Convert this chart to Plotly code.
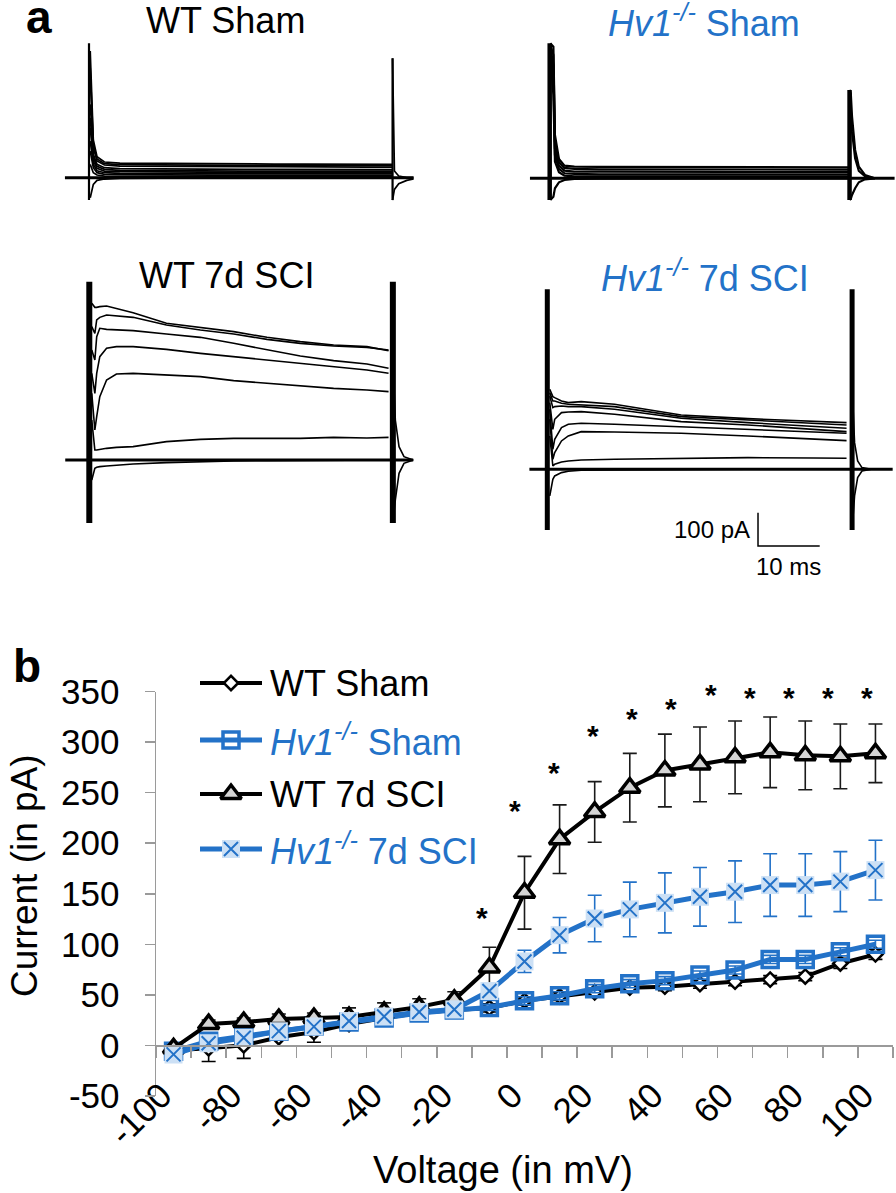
import plotly.graph_objects as go

W, H = 896, 1193
OFF = 0  # body margin removed via post_script below
BLUE = "#2372C8"
LIGHT = "#CCE0F5"
GRAY = "#9a9a9a"
FONT = "Liberation Sans, Arial, sans-serif"

# ------------------------------------------------------------------
# Panel b data (I-V curves)
# ------------------------------------------------------------------
voltage = list(range(-100, 101, 10))
wt_sham = [-5, -3, 0, 8, 13, 21, 27, 32, 35, 37, 44, 48.5, 52.5, 57, 58, 60.5, 63, 65, 68, 81, 90]
wt_sham_err = [4, 13, 13, 9, 10, 6, 5, 4, 4, 4, 4, 4, 4, 4, 4, 4, 4, 4, 4, 5, 5]
hv1_sham = [-6, 4, 9, 14, 19, 23, 27, 32, 35, 37.5, 44, 49, 56, 61, 64, 69.5, 74.5, 85, 85, 92.5, 100]
hv1_sham_err = [3, 3, 3, 3, 3, 3, 3, 3, 3, 3, 4, 4, 4, 4, 4, 4, 4, 4, 4, 4, 4]
wt_sci = [-3, 21, 23, 26, 27, 28, 33, 38, 45, 77, 151, 204, 231, 255, 272, 278, 285, 290, 287, 286, 289]
wt_sci_err = [3, 4, 4, 5, 5, 9, 9, 8, 8, 20, 36, 34, 30, 34, 36, 37, 36, 35, 34, 32, 29]
hv1_sci = [-9, 2, 7.5, 14, 18.5, 24, 28.5, 33, 35.5, 53.7, 83, 109, 125.5, 134.5, 141, 147, 152, 158.6, 158.6, 162, 173.4]
hv1_sci_err = [4, 4, 4, 4, 4, 4, 4, 4, 4, 6, 11, 17.5, 23, 27, 29.7, 29, 30.5, 31, 31, 29.7, 29.6]

x_label_vals = [-100, -80, -60, -40, -20, 0, 20, 40, 60, 80, 100]
x_label_text = ["-100", "-80", "-60", "-40", "-20", "0", "20", "40", "60", "80", "100"]
x_tick_bounds = [-105, -95, -85, -75, -65, -55, -45, -35, -25, -15, -5,
                 5, 15, 25, 35, 45, 55, 65, 75, 85, 95, 105]
y_tick_vals = [-50, 0, 50, 100, 150, 200, 250, 300, 350]
y_tick_text = ["-50", "0", "50", "100", "150", "200", "250", "300", "350"]

# significance asterisks (voltage position, current position)
sig_x = [-12.2, -2.7, 8.4, 19.6, 30.5, 41.7, 53.0, 64.2, 75.3, 86.6, 97.7]
sig_y = [128, 234.5, 272.4, 308.7, 325.8, 335, 348.9, 346.6, 346.6, 346.6, 346.6]

legend_names = ["WT Sham", "<i>Hv1<sup>-/-</sup></i> Sham", "WT 7d SCI", "<i>Hv1<sup>-/-</sup></i> 7d SCI"]

# ------------------------------------------------------------------
# Panel a data (current traces, time in ms, current in pA)
# ------------------------------------------------------------------
# WT Sham
wt_sham_t = [0.2, 0.7, 1.3, 2.5, 5, 10, 15, 20, 25, 30, 35, 40, 45, 49.2]
wt_sham_traces = [
    [380, 113, 63, 47, 44, 43, 43, 42, 42, 41, 41, 40, 40, 40],
    [330, 100, 56, 42, 39, 38, 38, 37, 37, 37, 36, 36, 36, 36],
    [300, 90, 50, 38, 35, 34, 34, 33, 33, 33, 32, 32, 32, 32],
    [220, 70, 40, 30, 27, 26, 26, 25, 25, 25, 25, 24, 24, 24],
    [180, 60, 34, 25, 22, 21, 21, 21, 20, 20, 20, 20, 20, 20],
    [150, 50, 28, 20, 18, 17, 17, 17, 16, 16, 16, 16, 16, 16],
    [110, 40, 21, 15, 13, 12, 12, 12, 12, 12, 12, 12, 12, 12],
    [80, 30, 15, 10, 9, 8, 8, 8, 8, 8, 8, 8, 8, 8],
    [40, 15, 8, 5, 4, 4, 4, 4, 4, 4, 4, 4, 4, 4],
    [-60, -20, -8, -4, -2, -1, 0, 0, 0, 0, 0, 0, 0, 0],
]
wt_sham_tail_t = [49.2, 49.5, 50.2, 51.5, 52.6]
wt_sham_tails = [[358, 20, 5, 0, 0], [-67, -35, -18, -8, -4]]
wt_sham_pulse = [0, 49.2]
wt_sham_on = [-67, 403]
wt_sham_off = [-67, 358]
wt_sham_base = [-3.9, 52.6]

# Hv1-/- Sham
hv1_sham_t = [0.1, 0.6, 0.85, 1.5, 2.4, 4, 8, 15, 22, 29, 36, 43, 48.6]
hv1_sham_traces = [
    [405, 395, 130, 58, 38, 35, 34, 34, 33, 33, 33, 33, 33],
    [400, 370, 110, 48, 31, 28, 27, 27, 27, 26, 26, 26, 26],
    [390, 340, 90, 38, 23, 20, 20, 19, 19, 19, 19, 19, 19],
    [380, 300, 70, 28, 15, 13, 12, 12, 12, 12, 12, 12, 12],
    [360, 250, 50, 18, 8, 6, 6, 6, 6, 6, 6, 6, 6],
    [-65, -55, -30, -12, -5, -2, -1, 0, 0, 0, 0, 0, 0],
]
hv1_sham_tail_t = [48.6, 48.8, 49.0, 49.5, 50.1, 51.1, 52.7]
hv1_sham_tails = [[265, 255, 185, 85, 35, 10, 0],
                  [230, 200, 140, 60, 22, 6, 0],
                  [-65, -62, -50, -30, -12, -3, 0]]
hv1_sham_pulse = [0, 48.6]
hv1_sham_on = [-65, 405]
hv1_sham_off = [-65, 265]
hv1_sham_base = [-3.2, 55.9]

# WT 7d SCI
wt_sci_t = [0.4, 0.9, 1.2, 1.7, 2.8, 4.4, 7.1, 12.5, 18, 23.4, 28.8, 34.2, 39.6, 45, 48.5]
wt_sci_traces = [
    [470, 458, 458, 460, 462, 455, 442, 410, 398, 385, 368, 355, 345, 340, 328],
    [400, 380, 420, 428, 435, 432, 428, 405, 390, 378, 362, 350, 342, 338, 330],
    [330, 300, 370, 395, 392, 390, 388, 378, 368, 350, 330, 312, 298, 288, 275],
    [260, 200, 260, 310, 335, 340, 340, 332, 320, 310, 300, 290, 280, 270, 260],
    [200, 90, 130, 190, 240, 258, 260, 255, 250, 238, 230, 222, 215, 210, 205],
    [120, 30, 30, 32, 35, 38, 40, 55, 62, 65, 65, 65, 68, 66, 68],
    [-60, -25, -22, -20, -18, -15, -12, -8, -5, -3, -2, -1, 0, 0, 0],
]
wt_sci_tail_t = [49.2, 49.6, 50.2, 51, 52.5]
wt_sci_tails = [[300, 120, 40, 10, 0], [-189, -120, -40, -10, 0]]
wt_sci_pulse = [0, 49.2]
wt_sci_on = [-189, 535]
wt_sci_off = [-189, 535]
wt_sci_base = [-3.9, 52.5]

# Hv1-/- 7d SCI
hv1_sci_t = [0.4, 0.9, 1.2, 2.3, 3.4, 5.5, 10.9, 21.7, 32.5, 43.2, 48.5]
hv1_sci_traces = [
    [240, 218, 215, 205, 200, 203, 195, 163, 152, 145, 140],
    [230, 205, 205, 198, 195, 193, 188, 158, 148, 138, 133],
    [220, 185, 188, 190, 188, 188, 180, 153, 140, 130, 123],
    [200, 120, 150, 170, 172, 173, 165, 143, 133, 120, 113],
    [180, 60, 90, 125, 135, 138, 135, 128, 120, 112, 108],
    [150, 30, 50, 85, 100, 113, 112, 108, 100, 92, 86],
    [100, 10, 15, 22, 25, 28, 30, 33, 35, 34, 33],
    [-80, -30, -20, -10, -6, -3, -2, 0, 0, 0, 0],
]
hv1_sci_tail_t = [49.4, 49.8, 50.3, 51, 52.5]
hv1_sci_tails = [[250, 80, 25, 5, 0], [-182, -80, -25, -5, 0]]
hv1_sci_pulse = [0, 49.4]
hv1_sci_on = [-182, 540]
hv1_sci_off = [-182, 540]
hv1_sci_base = [-2.9, 56.0]

# scale bar: 100 pA, 10 ms
scale_pa = 100
scale_ms = 10
scale_origin = [34.15, -230]

# ------------------------------------------------------------------
# Layout helpers (window pixel -> paper)
# ------------------------------------------------------------------
def fx(x):
    return (x - OFF) / W


def fy(y):
    return 1 - (y - OFF) / H


PX_PER_MS = 6.17
PX_PER_PA = 1 / 3.0
T_RANGE = [-5, 56]

fig = go.Figure()

panels = [
    dict(ax="", X0=89.0, Y0=177.7, yr=[-100, 430], t=wt_sham_t, traces=wt_sham_traces,
         tail_t=wt_sham_tail_t, tails=wt_sham_tails, pulse=wt_sham_pulse, on=wt_sham_on,
         off=wt_sham_off, base=wt_sham_base, sw=2.2, tw=1.7),
    dict(ax="2", X0=549.7, Y0=178.3, yr=[-100, 430], t=hv1_sham_t, traces=hv1_sham_traces,
         tail_t=hv1_sham_tail_t, tails=hv1_sham_tails, pulse=hv1_sham_pulse, on=hv1_sham_on,
         off=hv1_sham_off, base=hv1_sham_base, sw=4.5, tw=2.2),
    dict(ax="3", X0=89.3, Y0=460.0, yr=[-320, 560], t=wt_sci_t, traces=wt_sci_traces,
         tail_t=wt_sci_tail_t, tails=wt_sci_tails, pulse=wt_sci_pulse, on=wt_sci_on,
         off=wt_sci_off, base=wt_sci_base, sw=6, tw=1.6),
    dict(ax="4", X0=547.3, Y0=469.3, yr=[-320, 560], t=hv1_sci_t, traces=hv1_sci_traces,
         tail_t=hv1_sci_tail_t, tails=hv1_sci_tails, pulse=hv1_sci_pulse, on=hv1_sci_on,
         off=hv1_sci_off, base=hv1_sci_base, sw=5, tw=1.6),
]

layout_axes = {}


def line_trace(ax, x, y, width, color="black"):
    fig.add_trace(go.Scatter(x=x, y=y, mode="lines", line=dict(color=color, width=width),
                             xaxis="x" + ax, yaxis="y" + ax, showlegend=False, hoverinfo="skip"))


for p in panels:
    ax = p["ax"]
    line_trace(ax, p["base"], [0, 0], 3)
    for tr in p["traces"]:
        line_trace(ax, p["t"], tr, p["tw"])
    for tl in p["tails"]:
        line_trace(ax, p["tail_t"], tl, p["tw"])
    line_trace(ax, [p["pulse"][0]] * 2, p["on"], p["sw"])
    line_trace(ax, [p["pulse"][1]] * 2, p["off"], p["sw"])
    x0 = p["X0"] + T_RANGE[0] * PX_PER_MS
    x1 = p["X0"] + T_RANGE[1] * PX_PER_MS
    ytop = p["Y0"] - p["yr"][1] * PX_PER_PA
    ybot = p["Y0"] - p["yr"][0] * PX_PER_PA
    layout_axes["xaxis" + ax] = dict(domain=[max(fx(x0), 0), min(fx(x1), 1)], range=T_RANGE,
                                     visible=False, anchor="y" + ax, automargin=False)
    layout_axes["yaxis" + ax] = dict(domain=[fy(ybot), min(fy(ytop), 1)], range=p["yr"],
                                     visible=False, anchor="x" + ax, automargin=False)

# keep t=0 / I=0 at their pixel positions when a domain is clipped at the page edge
for p in panels:
    ax = p["ax"]
    d0, d1 = layout_axes["xaxis" + ax]["domain"]
    t0 = ((d0 * W + OFF) - p["X0"]) / PX_PER_MS
    t1 = ((d1 * W + OFF) - p["X0"]) / PX_PER_MS
    layout_axes["xaxis" + ax]["range"] = [t0, t1]
    e0, e1 = layout_axes["yaxis" + ax]["domain"]
    i_top = (p["Y0"] - ((1 - e1) * H + OFF)) / PX_PER_PA
    i_bot = (p["Y0"] - ((1 - e0) * H + OFF)) / PX_PER_PA
    layout_axes["yaxis" + ax]["range"] = [i_bot, i_top]

# scale bar in Hv1 7d SCI panel
line_trace("4", [scale_origin[0], scale_origin[0], scale_origin[0] + scale_ms],
           [scale_origin[1] + scale_pa, scale_origin[1], scale_origin[1]], 1.5)

# ------------------------------------------------------------------
# Panel b
# ------------------------------------------------------------------
def err(arr, color):
    return dict(type="data", array=arr, visible=True, color=color, thickness=1.6, width=7)


M_WT_SHAM = dict(symbol="diamond", size=11, color="white", line=dict(color="black", width=2.5))
M_HV_SHAM = dict(symbol="square-open", size=16, color=BLUE, line=dict(color=BLUE, width=3.5))
M_WT_SCI = dict(symbol="triangle-up", size=18, color="#d4d4d4", line=dict(color="black", width=3.5))
M_HV_SCI = dict(symbol="square", size=18, color=LIGHT, line=dict(width=0))
M_HV_SCI_X = dict(symbol="x-thin-open", size=14, color=BLUE, line=dict(color=BLUE, width=2))

fig.add_trace(go.Scatter(x=voltage, y=wt_sham, mode="lines+markers", xaxis="x5", yaxis="y5",
                         line=dict(color="black", width=4), error_y=err(wt_sham_err, "black"),
                         marker=M_WT_SHAM, showlegend=False, hoverinfo="skip"))
fig.add_trace(go.Scatter(x=voltage, y=hv1_sham, mode="lines+markers", xaxis="x5", yaxis="y5",
                         line=dict(color=BLUE, width=5), error_y=err(hv1_sham_err, BLUE),
                         marker=M_HV_SHAM, showlegend=False, hoverinfo="skip"))
fig.add_trace(go.Scatter(x=voltage, y=wt_sci, mode="lines+markers", xaxis="x5", yaxis="y5",
                         line=dict(color="black", width=4), error_y=err(wt_sci_err, "#1a1a1a"),
                         marker=M_WT_SCI, showlegend=False, hoverinfo="skip"))
fig.add_trace(go.Scatter(x=voltage, y=hv1_sci, mode="lines+markers", xaxis="x5", yaxis="y5",
                         line=dict(color=BLUE, width=5), error_y=err(hv1_sci_err, BLUE),
                         marker=M_HV_SCI, showlegend=False, hoverinfo="skip"))
fig.add_trace(go.Scatter(x=voltage, y=hv1_sci, mode="markers", xaxis="x5", yaxis="y5",
                         marker=M_HV_SCI_X, showlegend=False, hoverinfo="skip"))
fig.add_trace(go.Scatter(x=[None], y=[None], xaxis="x6", yaxis="y5", showlegend=False,
                         hoverinfo="skip"))

# manual legend (pixel-unit helper axes)
leg_rows = [683, 740, 794, 849]
leg_styles = [("black", 4, M_WT_SHAM), (BLUE, 5, M_HV_SHAM), ("black", 4, M_WT_SCI), (BLUE, 5, M_HV_SCI)]
for ry, (lc, lw, mk) in zip(leg_rows, leg_styles):
    fig.add_trace(go.Scatter(x=[200, 262], y=[ry, ry], mode="lines", xaxis="x7", yaxis="y7",
                             line=dict(color=lc, width=lw), showlegend=False, hoverinfo="skip"))
    fig.add_trace(go.Scatter(x=[231], y=[ry], mode="markers", xaxis="x7", yaxis="y7",
                             marker=mk, showlegend=False, hoverinfo="skip"))
fig.add_trace(go.Scatter(x=[231], y=[leg_rows[3]], mode="markers", xaxis="x7", yaxis="y7",
                         marker=M_HV_SCI_X, showlegend=False, hoverinfo="skip"))

PB_LEFT, PB_RIGHT = 156, 893
PB_TOP, PB_BOT = 691.7, 1095.8
Y_RANGE = [-50, 350]
zero_pos = PB_BOT - (0 - Y_RANGE[0]) / (Y_RANGE[1] - Y_RANGE[0]) * (PB_BOT - PB_TOP)

layout_axes["xaxis5"] = dict(domain=[fx(PB_LEFT), fx(PB_RIGHT)], range=[-105, 105], anchor="y5",
                             showline=False, ticks="", tickvals=x_label_vals, ticktext=x_label_text,
                             tickangle=-45, showgrid=False, zeroline=False, automargin=False,
                             ticklabelstandoff=-29, ticklabelshift=-12,
                             tickfont=dict(family=FONT, size=35, color="black"))
layout_axes["yaxis5"] = dict(domain=[fy(PB_BOT), fy(PB_TOP)], range=Y_RANGE, anchor="x5",
                             showline=True, linecolor=GRAY, linewidth=1.5, ticks="outside",
                             ticklen=10, tickcolor=GRAY, tickwidth=1.5, tickvals=y_tick_vals,
                             ticktext=y_tick_text, showgrid=False, zeroline=False,
                             ticklabelstandoff=18, automargin=False,
                             tickfont=dict(family=FONT, size=35, color="black"))
layout_axes["xaxis6"] = dict(overlaying="x5", anchor="free", position=fy(zero_pos), range=[-105, 105],
                             showline=True, linecolor=GRAY, linewidth=1.5, ticks="outside",
                             ticklen=11, tickcolor=GRAY, tickwidth=1.5, tickvals=x_tick_bounds,
                             showticklabels=False, showgrid=False, zeroline=False, automargin=False)
layout_axes["xaxis7"] = dict(domain=[fx(190), fx(280)], range=[190, 280], visible=False,
                             anchor="y7", automargin=False)
layout_axes["yaxis7"] = dict(domain=[fy(870), fy(660)], range=[870, 660], visible=False,
                             anchor="x7", automargin=False)

# ------------------------------------------------------------------
# Annotations
# ------------------------------------------------------------------
ann = []


def text(t, x, y, size, color="black", xanchor="center", yanchor="middle", angle=0):
    ann.append(dict(text=t, x=fx(x), y=fy(y), xref="paper", yref="paper", showarrow=False,
                    xanchor=xanchor, yanchor=yanchor, textangle=angle,
                    font=dict(family=FONT, size=size, color=color)))


text("<b>a</b>", 39, 17, 46)
text("<b>b</b>", 27, 666, 46)
text("WT Sham", 225, 20, 36)
text("<i>Hv1<sup>-/-</sup></i> Sham", 704, 21, 36, BLUE)
text("WT 7d SCI", 226, 275, 36)
text("<i>Hv1<sup>-/-</sup></i> 7d SCI", 705, 276, 36, BLUE)
for ry, name, col in zip(leg_rows, legend_names, ["black", BLUE, "black", BLUE]):
    text(name, 268, ry, 36, col, xanchor="left")
text("Current (in pA)", 24, 876, 37, angle=-90)
text("Voltage (in mV)", 503, 1170, 38)

# scale bar labels
ann.append(dict(text="100 pA", x=scale_origin[0] - 1.0, y=scale_origin[1] + scale_pa / 2,
                xref="x4", yref="y4", showarrow=False, xanchor="right", yanchor="middle",
                font=dict(family=FONT, size=24, color="black")))
ann.append(dict(text="10 ms", x=scale_origin[0] + scale_ms / 2, y=scale_origin[1] - 63,
                xref="x4", yref="y4", showarrow=False, xanchor="center", yanchor="middle",
                font=dict(family=FONT, size=24, color="black")))

for sx, sy in zip(sig_x, sig_y):
    ann.append(dict(text="<b>*</b>", x=sx, y=sy, xref="x5", yref="y5", showarrow=False,
                    xanchor="center", yanchor="middle", yshift=-2,
                    font=dict(family=FONT, size=30, color="black")))

fig.update_layout(width=W, height=H, margin=dict(l=0, r=0, t=0, b=0, autoexpand=False),
                  paper_bgcolor="white", plot_bgcolor="rgba(0,0,0,0)",
                  showlegend=False, annotations=ann, font=dict(family=FONT),
                  **layout_axes)

fig.write_html("out.html", config={"displayModeBar": False, "staticPlot": True},
               post_script="document.body.style.margin='0px';")
